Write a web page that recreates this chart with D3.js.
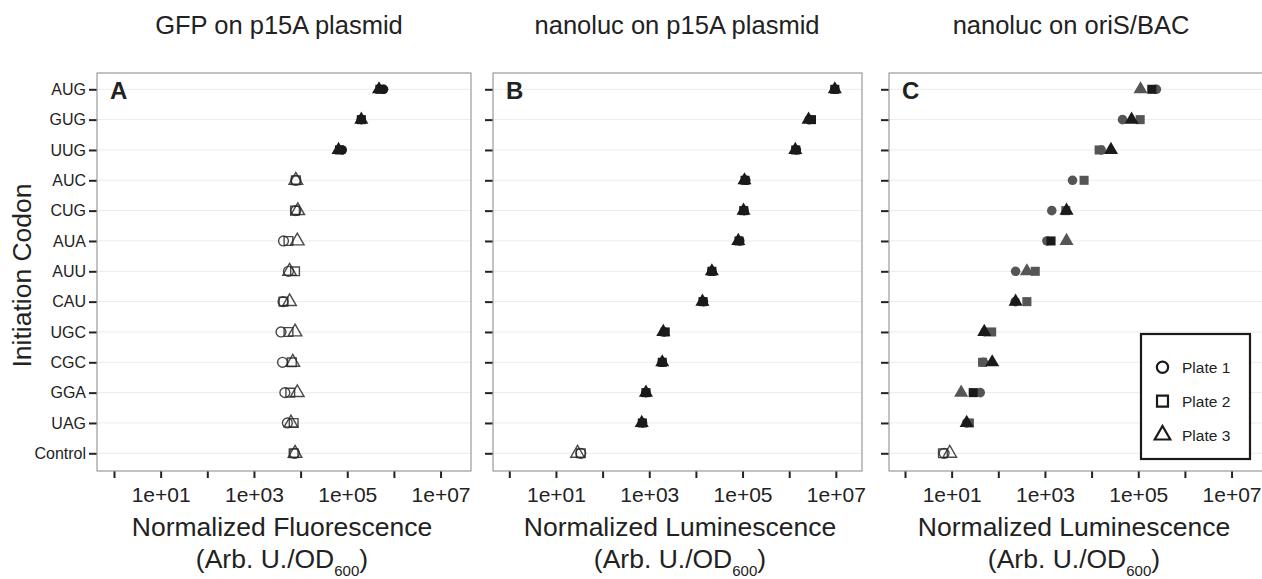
<!DOCTYPE html>
<html><head><meta charset="utf-8">
<script src="https://cdn.jsdelivr.net/npm/d3@7"></script>
<style>body{margin:0;background:#fff}svg{display:block;font-family:"Liberation Sans",Arial,sans-serif}</style>
</head><body><svg id="c" width="1262" height="579"></svg>
<script>
const codons = ["AUG","GUG","UUG","AUC","CUG","AUA","AUU","CAU","UGC","CGC","GGA","UAG","Control"];
const plates = ["Plate 1","Plate 2","Plate 3"];
const xTickValues = [1e0,1e1,1e2,1e3,1e4,1e5,1e6,1e7];
const xTickLabels = ["","1e+01","","1e+03","","1e+05","","1e+07"];
const panelTitles = ["GFP on p15A plasmid","nanoluc on p15A plasmid","nanoluc on oriS/BAC"];
const panelLetters = ["A","B","C"];
const xTitles = ["Normalized Fluorescence","Normalized Luminescence","Normalized Luminescence"];

// values per codon: [Plate 1, Plate 2, Plate 3]
const gfpP15A = [
 [6.0e5,5.0e5,4.8e5],[2.0e5,2.0e5,2.0e5],[7.8e4,6.8e4,6.5e4],[7.9e3,7.9e3,7.9e3],
 [7.9e3,7.6e3,8.7e3],[4.3e3,5.5e3,8.5e3],[5.5e3,7.6e3,5.8e3],[4.2e3,4.3e3,5.8e3],
 [3.8e3,5.5e3,7.6e3],[4.1e3,6.5e3,6.8e3],[4.6e3,6.0e3,8.5e3],[5.2e3,7.1e3,6.2e3],
 [7.4e3,7.1e3,7.6e3]];
const nlucP15A = [
 [9.5e6,9.5e6,9.5e6],[2.7e6,3.0e6,2.6e6],[1.42e6,1.38e6,1.35e6],[1.17e5,1.13e5,1.1e5],
 [1.08e5,1.06e5,1.05e5],[8.7e4,8.4e4,8.1e4],[2.2e4,2.2e4,2.2e4],[1.45e4,1.42e4,1.38e4],
 [2.1e3,2.2e3,2.0e3],[1.9e3,1.9e3,1.9e3],[850,850,850],[720,710,690],
 [34,34,29]];
const nlucBAC = [
 [2.45e5,1.95e5,1.12e5],[4.6e4,1.1e5,7.2e4],[1.6e4,1.45e4,2.6e4],[3.9e3,6.9e3,null],
 [1.4e3,2.8e3,2.9e3],[1.1e3,1.35e3,2.9e3],[235,620,410],[230,410,235],
 [52,72,50],[48,46,74],[41,29,16],[21,24,21],
 [6.9,6.5,9.1]];
// signal class per codon/plate: 0 = not above background, 1 = moderate, 2 = strong
const classA = [[2,2,2],[2,2,2],[2,2,2],[0,0,0],[0,0,0],[0,0,0],[0,0,0],[0,0,0],[0,0,0],[0,0,0],[0,0,0],[0,0,0],[0,0,0]];
const classB = [[2,2,2],[2,2,2],[2,2,2],[2,2,2],[2,2,2],[2,2,2],[2,2,2],[2,2,2],[2,2,2],[2,2,2],[2,2,2],[2,2,2],[0,0,0]];
const classC = [[1,2,1],[1,1,2],[1,1,2],[1,1,2],[1,1,2],[1,2,1],[1,1,1],[1,1,2],[1,1,2],[1,1,2],[1,2,1],[1,1,2],[0,0,0]];

const svg = d3.select("#c");
const FONT = '"Liberation Sans",Arial,sans-serif';
const panels = [
  {left:97, right:471, tick0:114, titleX:279, data:gfpP15A, cls:classA},
  {left:493, right:862, tick0:509.3, titleX:677, data:nlucP15A, cls:classB},
  {left:889, right:1263, tick0:905, titleX:1071, data:nlucBAC, cls:classC}
];
const pTop = 73, pBottom = 471, decade = 46.65;
const y = d3.scalePoint().domain(codons).range([89.3, 453.3]);
const shapes = d3.scaleOrdinal().domain(plates).range([d3.symbolCircle, d3.symbolSquare, d3.symbolTriangle]);
const sizesFilled = d3.scaleOrdinal().domain(plates).range([72, 82, 86]);
const sizesOpen = d3.scaleOrdinal().domain(plates).range([76, 76, 80]);
const fillOf = d3.scaleOrdinal().domain([0,1,2]).range(["none","#555555","#1a1a1a"]);

panels.forEach((p,pi)=>{
  const x = d3.scaleLog().domain([1,1e7]).range([p.tick0, p.tick0 + 7*decade]);
  const g = svg.append("g");
  g.append("rect").attr("x",p.left).attr("y",pTop).attr("width",p.right-p.left).attr("height",pBottom-pTop)
    .attr("fill","#fff");
  g.selectAll("line.grid").data(codons).join("line")
    .attr("x1",p.left).attr("x2",p.right).attr("y1",d=>y(d)).attr("y2",d=>y(d))
    .attr("stroke","#ebebeb").attr("stroke-width",1);
  const ya = g.append("g").attr("transform",`translate(${p.left},0)`)
    .call(d3.axisLeft(y).tickSize(8).tickPadding(3).tickFormat(pi===0? d=>d : ()=>""));
  ya.select(".domain").remove();
  ya.selectAll("line").attr("stroke","#222").attr("stroke-width",2);
  ya.selectAll("text").attr("font-size",16).attr("font-family",FONT).attr("fill","#222");
  const xa = g.append("g").attr("transform",`translate(0,${pBottom})`)
    .call(d3.axisBottom(x).tickValues(xTickValues).tickSize(7).tickPadding(9)
      .tickFormat((d,i)=>xTickLabels[i]));
  xa.select(".domain").remove();
  xa.selectAll("line").attr("stroke","#222").attr("stroke-width",2);
  xa.selectAll("text").attr("font-size",21).attr("font-family",FONT).attr("fill","#222");
  g.append("rect").attr("x",p.left).attr("y",pTop).attr("width",p.right-p.left).attr("height",pBottom-pTop)
    .attr("fill","none").attr("stroke","#9a9a9a").attr("stroke-width",1.2);
  const pts = [];
  plates.forEach((pl,k)=>{
    codons.forEach((c,i)=>{
      const v = p.data[i][k];
      if(v!=null) pts.push({codon:c, plate:pl, v, cls:p.cls[i][k]});
    });
  });
  g.selectAll("path.pt").data(pts).join("path")
    .attr("transform",d=>`translate(${x(d.v)},${y(d.codon)})`)
    .attr("d",d=>d3.symbol(shapes(d.plate), d.cls===0 ? sizesOpen(d.plate) : sizesFilled(d.plate))())
    .attr("fill",d=>fillOf(d.cls))
    .attr("stroke",d=>d.cls===0?"#2a2a2a":"none")
    .attr("stroke-opacity",0.85)
    .attr("stroke-width",1.4);
  g.append("text").attr("x",p.left+13).attr("y",pTop+26).text(panelLetters[pi])
    .attr("font-size",24).attr("font-weight","bold").attr("font-family",FONT).attr("fill","#222");
  g.append("text").attr("x",p.titleX).attr("y",34).attr("text-anchor","middle")
    .text(panelTitles[pi]).attr("font-size",25.5).attr("font-family",FONT).attr("fill","#222");
  const cx = p.titleX + 3;
  g.append("text").attr("x",cx).attr("y",536).attr("text-anchor","middle")
    .text(xTitles[pi]).attr("font-size",26.5).attr("font-family",FONT).attr("fill","#222");
  const t2 = g.append("text").attr("x",cx).attr("y",568).attr("text-anchor","middle")
    .attr("font-size",26.5).attr("font-family",FONT).attr("fill","#222");
  t2.append("tspan").text("(Arb. U./OD");
  t2.append("tspan").text("600").attr("font-size",15).attr("dy",8);
  t2.append("tspan").text(")").attr("dy",-8);
});

svg.append("text").attr("transform",`translate(31,275.5) rotate(-90)`).attr("text-anchor","middle")
  .text("Initiation Codon").attr("font-size",26.5).attr("font-family",FONT).attr("fill","#222");

const lg = svg.append("g");
lg.append("rect").attr("x",1141).attr("y",334).attr("width",109).attr("height",125)
  .attr("fill","#fff").attr("stroke","#1a1a1a").attr("stroke-width",2.2);
const ly = d3.scalePoint().domain(plates).range([367.3, 435]);
const legendSizes = d3.scaleOrdinal().domain(plates).range([100, 120, 105]);
plates.forEach(pl=>{
  lg.append("path").attr("transform",`translate(1162.5,${ly(pl)})`)
    .attr("d",d3.symbol(shapes(pl), legendSizes(pl))())
    .attr("fill","none").attr("stroke","#1a1a1a").attr("stroke-width",2.2);
  lg.append("text").attr("x",1182).attr("y",ly(pl)+5.5).text(pl)
    .attr("font-size",15.5).attr("font-family",FONT).attr("fill","#222");
});
</script></body></html>
